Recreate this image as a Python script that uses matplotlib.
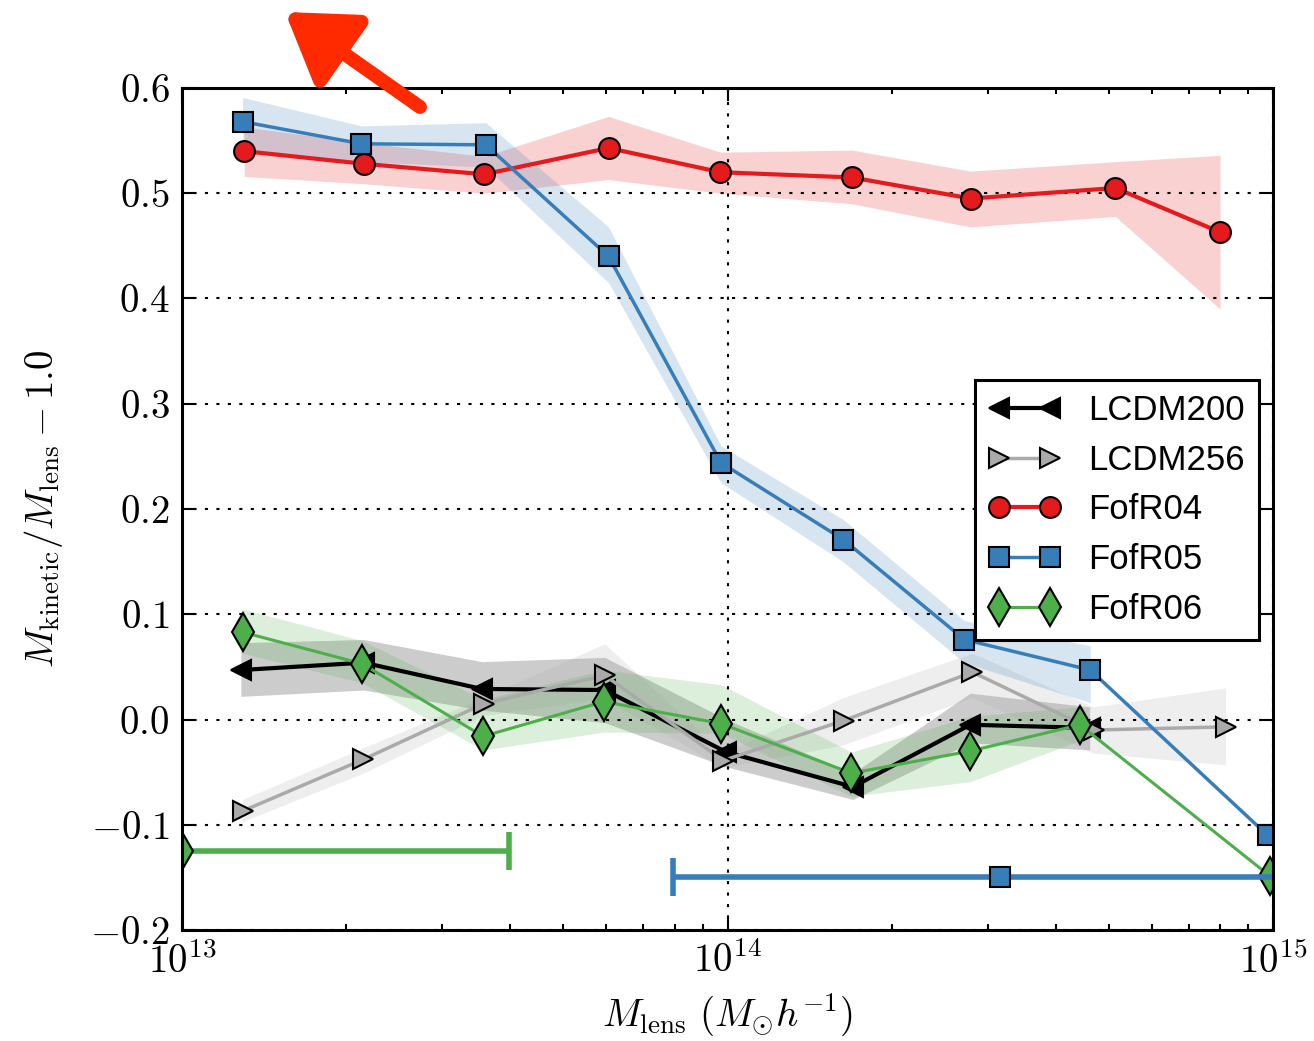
import numpy as np
import matplotlib
matplotlib.use('Agg')
import matplotlib.pyplot as plt
from matplotlib.ticker import FixedLocator, FuncFormatter, LogLocator, NullFormatter

plt.rcParams['mathtext.fontset'] = 'cm'
plt.rcParams['font.family'] = ['Liberation Sans', 'DejaVu Sans']

# log10 of lens mass for each bin, and the fractional mass offset per model
lx_lcdm200 = [13.108, 13.333, 13.550, 13.775, 13.998, 14.230, 14.445, 14.664]
y_lcdm200 = [0.047, 0.054, 0.029, 0.028, -0.031, -0.064, -0.005, -0.008]
lo_lcdm200 = [0.022, 0.028, 0.009, -0.003, -0.045, -0.076, -0.022, -0.029]
hi_lcdm200 = [0.073, 0.076, 0.055, 0.059, 0.000, -0.051, 0.025, 0.012]

lx_lcdm256 = [13.111, 13.332, 13.553, 13.775, 13.992, 14.213, 14.449, 14.671, 14.913]
y_lcdm256 = [-0.087, -0.038, 0.015, 0.042, -0.039, -0.001, 0.045, -0.010, -0.007]
lo_lcdm256 = [-0.097, -0.051, 0.004, 0.020, -0.046, -0.024, 0.021, -0.032, -0.043]
hi_lcdm256 = [-0.076, -0.027, 0.021, 0.072, -0.032, 0.021, 0.063, 0.012, 0.030]

lx_r04 = [13.114, 13.333, 13.554, 13.782, 13.987, 14.228, 14.446, 14.711, 14.903]
y_r04 = [0.540, 0.528, 0.518, 0.543, 0.520, 0.515, 0.495, 0.505, 0.463]
lo_r04 = [0.516, 0.509, 0.500, 0.513, 0.500, 0.490, 0.468, 0.478, 0.390]
hi_r04 = [0.563, 0.548, 0.535, 0.573, 0.539, 0.541, 0.521, 0.530, 0.536]

lx_r05 = [13.111, 13.329, 13.557, 13.782, 13.988, 14.212, 14.434, 14.665, 14.990]
y_r05 = [0.568, 0.547, 0.546, 0.440, 0.244, 0.171, 0.076, 0.047, -0.110]
lo_r05 = [0.541, 0.530, 0.525, 0.415, 0.225, 0.150, 0.054, 0.016, np.nan]
hi_r05 = [0.591, 0.564, 0.567, 0.468, 0.260, 0.190, 0.094, 0.070, np.nan]

lx_r06 = [13.111, 13.330, 13.552, 13.773, 13.989, 14.227, 14.445, 14.646, 14.995]
y_r06 = [0.083, 0.053, -0.016, 0.017, -0.004, -0.051, -0.030, -0.005, -0.149]
lo_r06 = [0.063, 0.035, -0.029, -0.012, -0.013, -0.073, -0.059, -0.020, np.nan]
hi_r06 = [0.105, 0.075, 0.019, 0.047, 0.033, -0.031, 0.003, 0.012, np.nan]

# mass scatter bars (log10 centre, half width in dex, y position)
scat_r06 = (13.0, 0.6, -0.125)
scat_r05 = (14.5, 0.6, -0.150)

red = '#e41a1c'
blue = '#377eb8'
green = '#4daf4a'
grey = '#aaaaaa'

fig = plt.figure(figsize=(13.14, 10.41), dpi=100)
ax = fig.add_axes([182/1314., 111/1041., 1091/1314., 842/1041.])

series = [
    (lx_lcdm200, y_lcdm200, lo_lcdm200, hi_lcdm200, 'k', '<', 15, 3.0, 'LCDM200'),
    (lx_lcdm256, y_lcdm256, lo_lcdm256, hi_lcdm256, grey, '>', 15, 2.5, 'LCDM256'),
    (lx_r04, y_r04, lo_r04, hi_r04, red, 'o', 15, 3.0, 'FofR04'),
    (lx_r05, y_r05, lo_r05, hi_r05, blue, 's', 15, 2.5, 'FofR05'),
    (lx_r06, y_r06, lo_r06, hi_r06, green, 'd', 19, 2.2, 'FofR06'),
]

for lx, y, lo, hi, c, mk, ms, lw, name in series:
    x = 10**np.array(lx)
    ax.fill_between(x, lo, hi, color=c, alpha=0.2, lw=0)
for lx, y, lo, hi, c, mk, ms, lw, name in series:
    x = 10**np.array(lx)
    ax.plot(x, y, color=c, lw=lw, marker=mk, ms=ms, mfc=c, mec='k',
            mew=1.5, label=name)

for (lc, hw, yy), c, mk, ms in [(scat_r06, green, 'd', 19), (scat_r05, blue, 's', 15)]:
    xc = 10**lc
    xerr = [[xc - 10**(lc - hw)], [10**(lc + hw) - xc]]
    ax.errorbar([xc], [yy], xerr=xerr, fmt='none', ecolor=c, elinewidth=4,
                capsize=14, capthick=4)
    ax.plot([xc], [yy], ls='none', marker=mk, ms=ms, mfc=c, mec='k', mew=1.5)

ax.set_xscale('log')
ax.set_xlim(1e13, 1e15)
ax.set_ylim(-0.2, 0.6)
ax.set_yticks(np.arange(-0.2, 0.61, 0.1))
ax.yaxis.set_major_formatter(FuncFormatter(lambda v, p: r'$%.1f$' % v if abs(v) > 1e-9 else r'$0.0$'))
ax.xaxis.set_major_locator(FixedLocator([1e13, 1e14, 1e15]))
ax.xaxis.set_major_formatter(FuncFormatter(lambda v, p: r'$10^{%d}$' % round(np.log10(v))))
ax.xaxis.set_minor_locator(LogLocator(base=10, subs=np.arange(2, 10)))
ax.xaxis.set_minor_formatter(NullFormatter())

ax.grid(True, which='major', linestyle=(0, (1.5, 4)), color='k', lw=1.5)
ax.tick_params(which='both', direction='in', top=True, right=True, labelsize=28, width=1.5)
ax.tick_params(which='major', length=9, pad=9)
ax.tick_params(which='minor', length=4)
for s in ax.spines.values():
    s.set_linewidth(2.2)

ax.set_ylabel(r'$M_{\rm kinetic}/M_{\rm lens}-1.0$', fontsize=28, labelpad=18)
ax.set_xlabel(r'$M_{\rm lens}\ (M_{\odot}h^{-1})$', fontsize=28, labelpad=8)

leg = ax.legend(loc='upper left', bbox_to_anchor=(0.727, 0.653), borderaxespad=0,
                numpoints=2, fontsize=25, fancybox=False, handlelength=2.05,
                handletextpad=0.8, labelspacing=0.48, borderpad=0.4,
                framealpha=1)
leg.get_frame().set_edgecolor('k')
leg.get_frame().set_linewidth(2.2)

# red marker arrow drawn by hand at the top
ax.annotate('', xy=(285, 1041 - 12), xytext=(420, 1041 - 107),
            xycoords='figure pixels', textcoords='figure pixels',
            arrowprops=dict(arrowstyle='-|>,head_length=0.8,head_width=0.52',
                            lw=10, color='#ff2a00', mutation_scale=50,
                            shrinkA=0, shrinkB=0),
            annotation_clip=False)

fig.savefig('out.png', dpi=100)
